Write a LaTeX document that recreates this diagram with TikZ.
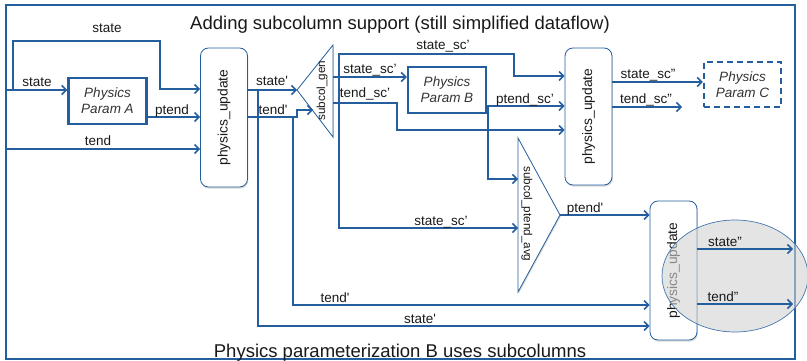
\documentclass[tikz,border=0pt]{standalone}
\usepackage{fontspec}
\setmainfont{Liberation Sans}
\usetikzlibrary{arrows.meta,shadows,shapes.geometric}
\definecolor{lblue}{RGB}{36,94,158}
\definecolor{txt}{RGB}{25,25,25}
\begin{document}
\begin{tikzpicture}[x=1pt,y=-1pt,
  conn/.style={draw=lblue,line width=1.5pt,-{Straight Barb[length=4.5pt,width=9pt]}},
  wire/.style={draw=lblue,line width=1.5pt},
  lbl/.style={font=\fontsize{13.5}{16}\selectfont,text=txt,anchor=base,inner sep=0pt},
  ttl/.style={font=\fontsize{18.5}{22}\selectfont,text=txt,anchor=base,inner sep=0pt},
  sh/.style={drop shadow={shadow xshift=0.8pt,shadow yshift=-1.6pt,opacity=0.3}},
  pubox/.style={draw=lblue,line width=0.8pt,fill=white,rounded corners=8pt,minimum width=47pt,minimum height=138pt,inner sep=0pt,sh,font=\fontsize{13.8}{16}\selectfont,text=txt},
  param/.style={draw=lblue,line width=2.4pt,fill=white,minimum width=78pt,minimum height=46pt,inner sep=0pt,align=center,font=\itshape\fontsize{13.5}{16}\selectfont,text=black!80},
  tri/.style={draw=lblue,line width=0.8pt,fill=white,line join=miter,sh},
  tritext/.style={font=\fontsize{11.7}{14}\selectfont,text=txt,inner sep=0pt}]
\useasboundingbox (0,0) rectangle (807,361);
% frame
\draw[lblue,line width=1.5pt] (6,5) rectangle (795,359);
\node[ttl] (t1) at (400,30) {Adding subcolumn support (still simplified dataflow)};
\node[ttl] (t2) at (400,357) {Physics parameterization B uses subcolumns};
% boxes
\node[param] (pa) at (107.5,101) {Physics\\Param A};
\node[param] (pb) at (447,90) {Physics\\Param B};
\node[param,dash pattern=on 6pt off 4pt,minimum width=77pt,minimum height=45pt] (pc) at (742.5,84.5) {Physics\\Param C};
\node[pubox,minimum height=139pt] (pu1) at (224,117.5) {\rotatebox{90}{physics\_update}};
\node[pubox,minimum height=137pt] (pu2) at (588.5,116.5) {\rotatebox{90}{physics\_update}};
\node[pubox,minimum height=139pt] (pu3) at (673.5,270.5) {\rotatebox{90}{physics\_update}};
% triangles
\coordinate (sgtip) at (297,90);
\coordinate (sgtop) at (333,45);
\coordinate (sgbot) at (333,137);
\path[tri] (sgtip) -- (sgtop) -- (sgbot) -- cycle;
\node[tritext,rotate=90] (sg) at (322,90.5) {subcol\_gen};
\coordinate (patop) at (518,138);
\coordinate (pabot) at (518,292);
\coordinate (patip) at (560,215);
\path[tri] (patop) -- (patip) -- (pabot) -- cycle;
\node[tritext,rotate=-90] (pav) at (527,214) {subcol\_ptend\_avg};
% inputs to Param A / pu1
\coordinate (inS) at (6,90);
\coordinate (brA) at (13,90);
\coordinate (inT) at (6,149);
\draw[conn] (inS) -- (pa.west |- inS);
\draw[conn] (brA) |- (160,41) |- (pu1.west |- 0,89);
\draw[conn] (pa.east |- 0,117) -- (pu1.west |- 0,117);
\draw[conn] (inT) -- (pu1.west |- inT);
\node[lbl] (l1) at (107,33) {state};
\node[lbl] (l2) at (37,87) {state};
\node[lbl] (l3) at (172,114) {ptend};
\node[lbl] (l4) at (98,146) {tend};
% pu1 outputs
\draw[conn] (pu1.east |- 0,90) -- (sgtip);
\coordinate (tg) at (313,110);
\draw[conn] (pu1.east |- 0,117) -- (297,117) -- (297,110) -- (tg);
\node[lbl] (l5) at (272,86) {state\textquotesingle};
\node[lbl] (l6) at (273,114) {tend\textquotesingle};
\draw[conn] (258,90) -- (258,326) -- (pu3.west |- 0,326);
\draw[conn] (293,117) -- (293,305) -- (pu3.west |- 0,305);
\node[lbl] (l7) at (335,302) {tend\textquotesingle};
\node[lbl] (l8) at (420,323) {state\textquotesingle};
% subcol_gen outputs
\draw[conn] (333,77) -- (pb.west |- 0,77);
\draw[conn] (339,77) -- (339,54) -- (514,54) -- (514,76) -- (pu2.west |- 0,76);
\draw[conn] (339,77) -- (339,228) -- (patop |- 0,228);
\draw[conn] (333,103) -- (397,103) -- (397,130) -- (pu2.west |- 0,130);
\node[lbl] (l9) at (370,74) {state\_sc’};
\node[lbl] (l10) at (443,50) {state\_sc’};
\node[lbl] (l11) at (441,225) {state\_sc’};
\node[lbl] (l12) at (365,98) {tend\_sc’};
% Param B outputs
\draw[conn] (pb.east |- 0,106) -- (pu2.west |- 0,106);
\draw[conn] (488,106) -- (488,179) -- (patop |- 0,179);
\node[lbl] (l13) at (525,103) {ptend\_sc’};
% subcol_ptend_avg output
\draw[conn] (patip) -- (pu3.west |- patip);
\node[lbl] (l14) at (585,212) {ptend\textquotesingle};
% pu2 outputs
\coordinate (tsc) at (682,107);
\draw[conn] (pu2.east |- 0,82) -- (pc.west |- 0,82);
\draw[conn] (pu2.east |- 0,107) -- (tsc);
\node[lbl] (l15) at (648,79) {state\_sc”};
\node[lbl] (l16) at (646,103) {tend\_sc”};
% highlight ellipse
\node[ellipse,draw=lblue!85,line width=0.7pt,fill=gray!35,fill opacity=0.6,minimum width=146pt,minimum height=112pt,inner sep=0pt] (hl) at (735,276) {};
% pu3 outputs
\coordinate (o1) at (793,249);
\coordinate (o2) at (793,304);
\draw[conn] (pu3.east |- o1) -- (o1);
\draw[conn] (pu3.east |- o2) -- (o2);
\node[lbl] (l17) at (725,246) {state”};
\node[lbl] (l18) at (723,301) {tend”};
\end{tikzpicture}
\end{document}
